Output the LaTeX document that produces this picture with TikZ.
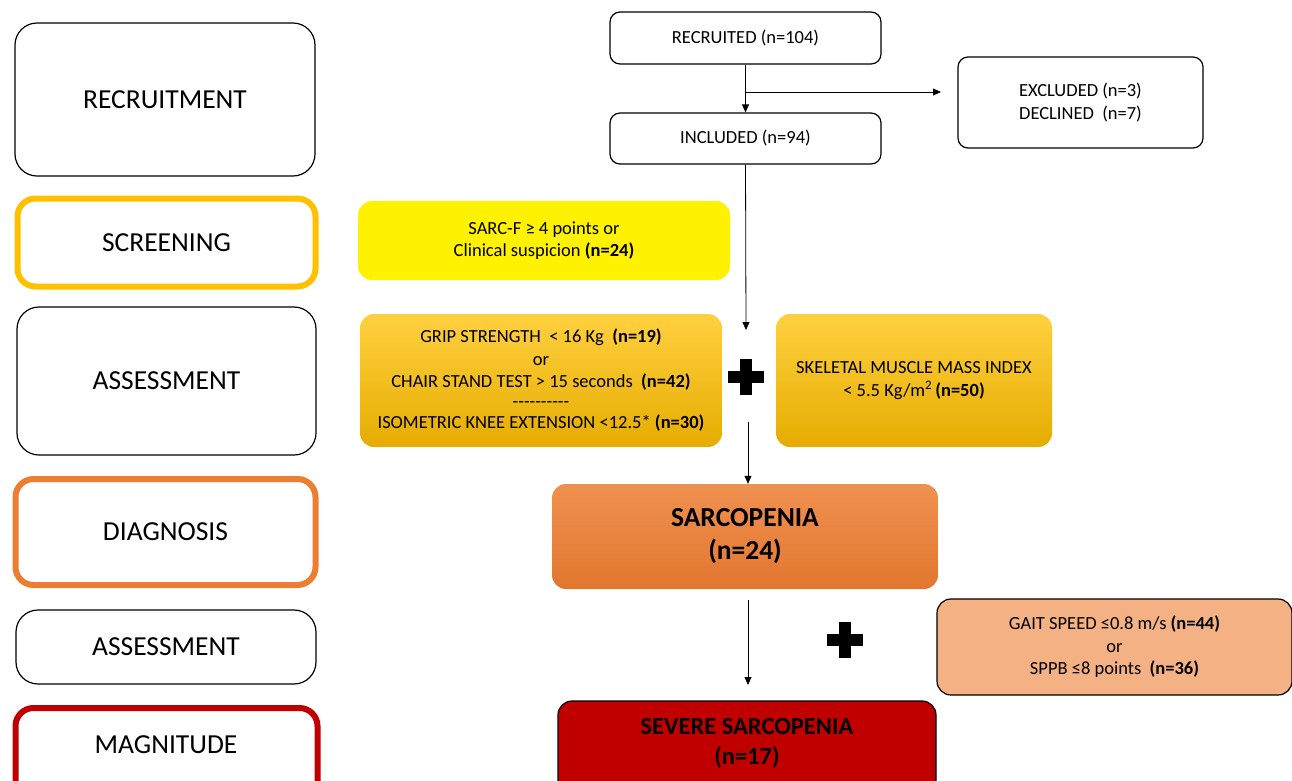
\documentclass[tikz,border=0pt]{standalone}
\usepackage{fontspec}
\setmainfont{Carlito}
\usetikzlibrary{arrows.meta}
\definecolor{cyel}{HTML}{FFC000}
\definecolor{corg}{HTML}{ED7D31}
\definecolor{cred}{HTML}{C00000}
\definecolor{cpeach}{HTML}{F4B183}
\newcommand{\hy}{-\kern0pt}
\tikzset{
  stage/.style={draw=black, line width=1.2pt, rounded corners=22pt, fill=white, font=\fontsize{27.5}{32}\selectfont, align=center, inner sep=0pt},
  thickstage/.style={stage, line width=6pt, rounded corners=18pt},
  flowbox/.style={draw=black, line width=1.2pt, rounded corners=10pt, fill=white, font=\fontsize{18.5}{22.5}\selectfont, align=center, inner sep=0pt},
  infobox/.style={rounded corners=14pt, font=\fontsize{18.5}{22.5}\selectfont, align=center, inner sep=0pt},
  goldbox/.style={infobox, top color=cyel!75!white, bottom color=cyel!90!black},
  conn/.style={line width=0.8pt, -{Triangle[width=7pt,length=8pt]}},
}
\begin{document}
\begin{tikzpicture}[x=1pt,y=-1pt]
\useasboundingbox (0,0) rectangle (1292,780);
% left stage boxes
\node[stage, minimum width=300, minimum height=153] (s1) at (165,99.5) {RECRUITMENT};
\node[thickstage, draw=cyel, minimum width=298, minimum height=88] (s2) at (166.5,242.5) {SCREENING};
\node[stage, minimum width=299, minimum height=148] (s3) at (166.5,381) {ASSESSMENT};
\node[thickstage, draw=corg, minimum width=300, minimum height=106] (s4) at (165.5,532) {DIAGNOSIS};
\node[stage, minimum width=300, minimum height=74] (s5) at (166,647) {ASSESSMENT};
\node[thickstage, draw=cred, minimum width=302, minimum height=100] (s6) at (166.5,758) {};
\node[font=\fontsize{27.5}{32}\selectfont] (s6t) at (166,745) {MAGNITUDE};
% flow boxes
\node[flowbox, minimum width=271, minimum height=52] (rec) at (745.5,38) {RECRUITED (n=104)};
\node[flowbox, minimum width=271, minimum height=51] (inc) at (745.5,138.5) {INCLUDED (n=94)};
\node[flowbox, minimum width=245, minimum height=91] (exc) at (1080.5,102.5) {EXCLUDED (n=3)\\DECLINED\ \ (n=7)};
\node[infobox, fill=yellow, minimum width=372, minimum height=79] (scr) at (544,240.5) {SARC-F ≥ 4 points or\\Clinical suspicion \textbf{(n=24)}};
\node[goldbox, minimum width=362, minimum height=133] (grip) at (541,380.5) {GRIP STRENGTH\ \ < 16 Kg\ \ \textbf{(n=19)}\\or\\CHAIR STAND TEST > 15 seconds\ \ \textbf{(n=42)}\\[-3pt]\hy\hy\hy\hy\hy\hy\hy\hy\hy\hy\\[-1pt]ISOMETRIC KNEE EXTENSION <12.5* \textbf{(n=30)}};
\node[goldbox, minimum width=276, minimum height=133] (smi) at (914,380.5) {SKELETAL MUSCLE MASS INDEX\\< 5.5 Kg/m\textsuperscript{2}\,\textbf{(n=50)}};
\node[infobox, top color=corg!85!white, bottom color=corg!95!black, minimum width=386, minimum height=105, font=\bfseries\fontsize{27.5}{33}\selectfont] (sar) at (745,536.5) {SARCOPENIA\\(n=24)};
\node[flowbox, fill=cpeach, rounded corners=14pt, minimum width=355, minimum height=96] (gait) at (1114.5,647) {GAIT SPEED ≤0.8 m/s \textbf{(n=44)}\\or\\SPPB ≤8 points\ \ \textbf{(n=36)}};
\node[flowbox, fill=cred, rounded corners=14pt, minimum width=378, minimum height=110] (sev) at (747,756) {};
\node[font=\bfseries\fontsize{24.5}{30}\selectfont, align=center] (sevt) at (747,743) {SEVERE SARCOPENIA\\(n=17)};
% connectors
\coordinate (br) at (746,92);
\coordinate (brend) at (941,92);
\coordinate (a1) at (746,330);
\coordinate (b1) at (748,422);
\coordinate (c1) at (748,600);
\coordinate (c2) at (748,685);
\draw[conn] (rec.south -| inc.north) -- (inc.north);
\draw[conn] (br) -- (brend);
\draw[conn] (inc.south) -- (a1);
\draw[conn] (b1) -- (b1 |- sar.north);
\draw[conn] (c1) -- (c2);
% plus signs
\fill (739.5,359) rectangle (751.5,395);
\fill (727.5,371) rectangle (763.5,383);
\fill (839,622) rectangle (851,658);
\fill (827,634) rectangle (863,646);
\end{tikzpicture}
\end{document}
